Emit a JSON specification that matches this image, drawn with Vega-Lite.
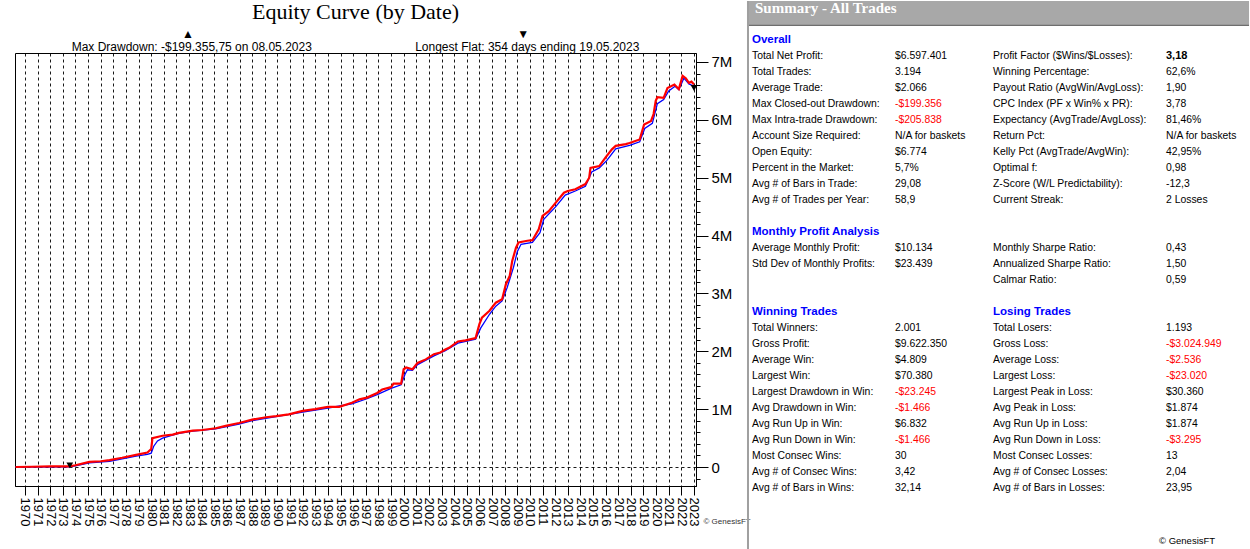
{
  "$schema": "https://vega.github.io/schema/vega-lite/v6.json",
  "padding": {"left": 10, "top": 0, "right": 0, "bottom": 0},
  "background": "white",
  "bounds": "flush",
  "spacing": 51,
  "config": {"view": {"stroke": null}, "font": "Liberation Sans"},
  "datasets": {
    "equity": [
      {"s":"open","t":1969.25,"v":0},{"s":"open","t":1970.5,"v":5000},{"s":"open","t":1972,"v":10000},{"s":"open","t":1973.5,"v":10000},
      {"s":"open","t":1974.0,"v":30000},{"s":"open","t":1975.1,"v":90000},{"s":"open","t":1976.0,"v":100000},{"s":"open","t":1976.7,"v":120000},
      {"s":"open","t":1977.7,"v":160000},{"s":"open","t":1978.8,"v":210000},{"s":"open","t":1979.7,"v":250000},{"s":"open","t":1980.0,"v":310000},
      {"s":"open","t":1980.1,"v":500000},{"s":"open","t":1980.9,"v":540000},{"s":"open","t":1981.7,"v":560000},{"s":"open","t":1982.2,"v":590000},
      {"s":"open","t":1983.3,"v":630000},{"s":"open","t":1984.05,"v":640000},{"s":"open","t":1985.1,"v":670000},{"s":"open","t":1985.9,"v":710000},
      {"s":"open","t":1986.96,"v":760000},{"s":"open","t":1988.0,"v":820000},{"s":"open","t":1989.1,"v":860000},{"s":"open","t":1989.9,"v":880000},
      {"s":"open","t":1990.9,"v":910000},{"s":"open","t":1992.0,"v":970000},{"s":"open","t":1993.0,"v":1000000},{"s":"open","t":1994.0,"v":1040000},
      {"s":"open","t":1994.9,"v":1040000},{"s":"open","t":1995.9,"v":1110000},{"s":"open","t":1996.5,"v":1170000},{"s":"open","t":1997.1,"v":1200000},
      {"s":"open","t":1997.9,"v":1280000},{"s":"open","t":1998.3,"v":1340000},{"s":"open","t":1999.0,"v":1380000},{"s":"open","t":1999.2,"v":1440000},
      {"s":"open","t":1999.8,"v":1440000},{"s":"open","t":2000.0,"v":1690000},{"s":"open","t":2000.2,"v":1720000},{"s":"open","t":2000.7,"v":1690000},
      {"s":"open","t":2001.1,"v":1800000},{"s":"open","t":2001.75,"v":1860000},{"s":"open","t":2002.4,"v":1950000},{"s":"open","t":2002.9,"v":1980000},
      {"s":"open","t":2003.3,"v":2030000},{"s":"open","t":2003.6,"v":2060000},{"s":"open","t":2004.3,"v":2170000},{"s":"open","t":2004.9,"v":2190000},
      {"s":"open","t":2005.7,"v":2230000},{"s":"open","t":2006.0,"v":2470000},{"s":"open","t":2006.2,"v":2580000},{"s":"open","t":2006.8,"v":2700000},
      {"s":"open","t":2007.3,"v":2840000},{"s":"open","t":2007.8,"v":2900000},{"s":"open","t":2008.1,"v":3160000},{"s":"open","t":2008.4,"v":3300000},
      {"s":"open","t":2008.6,"v":3560000},{"s":"open","t":2008.9,"v":3790000},{"s":"open","t":2009.1,"v":3880000},{"s":"open","t":2009.8,"v":3910000},
      {"s":"open","t":2010.2,"v":3920000},{"s":"open","t":2010.7,"v":4110000},{"s":"open","t":2011.0,"v":4340000},{"s":"open","t":2011.5,"v":4420000},
      {"s":"open","t":2012.05,"v":4570000},{"s":"open","t":2012.7,"v":4740000},{"s":"open","t":2013.0,"v":4770000},{"s":"open","t":2013.6,"v":4800000},
      {"s":"open","t":2014.4,"v":4890000},{"s":"open","t":2014.7,"v":5000000},{"s":"open","t":2014.8,"v":5170000},{"s":"open","t":2015.5,"v":5200000},
      {"s":"open","t":2016.0,"v":5350000},{"s":"open","t":2016.5,"v":5490000},{"s":"open","t":2016.8,"v":5550000},{"s":"open","t":2017.6,"v":5580000},
      {"s":"open","t":2017.9,"v":5600000},{"s":"open","t":2018.7,"v":5660000},{"s":"open","t":2018.9,"v":5810000},{"s":"open","t":2019.05,"v":5920000},
      {"s":"open","t":2019.6,"v":5980000},{"s":"open","t":2019.8,"v":6100000},{"s":"open","t":2019.97,"v":6330000},{"s":"open","t":2020.1,"v":6390000},
      {"s":"open","t":2020.6,"v":6380000},{"s":"open","t":2020.9,"v":6550000},{"s":"open","t":2021.45,"v":6610000},{"s":"open","t":2021.8,"v":6530000},
      {"s":"open","t":2022.1,"v":6760000},{"s":"open","t":2022.35,"v":6720000},{"s":"open","t":2022.6,"v":6640000},{"s":"open","t":2022.8,"v":6660000},
      {"s":"open","t":2023.0,"v":6610000},
      {"s":"closed","t":1969.25,"v":0},{"s":"closed","t":1973.5,"v":5000},{"s":"closed","t":1974.0,"v":20000},{"s":"closed","t":1975.1,"v":70000},
      {"s":"closed","t":1976.7,"v":100000},{"s":"closed","t":1977.7,"v":140000},{"s":"closed","t":1978.8,"v":190000},{"s":"closed","t":1979.7,"v":220000},
      {"s":"closed","t":1980.0,"v":240000},{"s":"closed","t":1980.2,"v":360000},{"s":"closed","t":1980.5,"v":450000},{"s":"closed","t":1980.9,"v":500000},
      {"s":"closed","t":1981.7,"v":550000},{"s":"closed","t":1982.2,"v":580000},{"s":"closed","t":1983.3,"v":620000},{"s":"closed","t":1985.1,"v":660000},
      {"s":"closed","t":1986.96,"v":740000},{"s":"closed","t":1988.0,"v":800000},{"s":"closed","t":1989.9,"v":870000},{"s":"closed","t":1992.0,"v":950000},
      {"s":"closed","t":1994.0,"v":1020000},{"s":"closed","t":1995.9,"v":1090000},{"s":"closed","t":1997.1,"v":1180000},{"s":"closed","t":1997.9,"v":1250000},
      {"s":"closed","t":1999.0,"v":1360000},{"s":"closed","t":1999.8,"v":1420000},{"s":"closed","t":2000.1,"v":1600000},{"s":"closed","t":2000.3,"v":1680000},
      {"s":"closed","t":2000.7,"v":1670000},{"s":"closed","t":2001.1,"v":1770000},{"s":"closed","t":2002.4,"v":1920000},{"s":"closed","t":2003.3,"v":2010000},
      {"s":"closed","t":2004.3,"v":2140000},{"s":"closed","t":2005.7,"v":2210000},{"s":"closed","t":2006.1,"v":2400000},{"s":"closed","t":2006.8,"v":2640000},
      {"s":"closed","t":2007.3,"v":2780000},{"s":"closed","t":2007.8,"v":2870000},{"s":"closed","t":2008.2,"v":3100000},{"s":"closed","t":2008.7,"v":3450000},
      {"s":"closed","t":2009.0,"v":3720000},{"s":"closed","t":2009.3,"v":3850000},{"s":"closed","t":2010.2,"v":3880000},{"s":"closed","t":2010.8,"v":4050000},
      {"s":"closed","t":2011.1,"v":4280000},{"s":"closed","t":2012.05,"v":4500000},{"s":"closed","t":2012.8,"v":4700000},{"s":"closed","t":2013.6,"v":4770000},
      {"s":"closed","t":2014.4,"v":4850000},{"s":"closed","t":2014.9,"v":5100000},{"s":"closed","t":2015.5,"v":5170000},{"s":"closed","t":2016.1,"v":5300000},
      {"s":"closed","t":2016.8,"v":5500000},{"s":"closed","t":2017.9,"v":5560000},{"s":"closed","t":2018.7,"v":5620000},{"s":"closed","t":2019.1,"v":5850000},
      {"s":"closed","t":2019.7,"v":5940000},{"s":"closed","t":2020.1,"v":6280000},{"s":"closed","t":2020.6,"v":6350000},{"s":"closed","t":2021.0,"v":6500000},
      {"s":"closed","t":2021.5,"v":6580000},{"s":"closed","t":2021.8,"v":6520000},{"s":"closed","t":2022.2,"v":6720000},{"s":"closed","t":2022.6,"v":6620000},
      {"s":"closed","t":2023.0,"v":6580000}
    ],
    "markers": [
      {"t": 1973.55, "v": 30000},
      {"t": 2023.0, "v": 6550000}
    ],
    "summary": [
      {"r":-2,"c":0,"t":"Summary - All Trades","k":"title"},
      {"r":0,"c":0,"t":"Overall","k":"head"},
      {"r":1,"c":0,"t":"Total Net Profit:","k":"cell"},{"r":1,"c":1,"t":"$6.597.401","k":"cell"},{"r":1,"c":2,"t":"Profit Factor ($Wins/$Losses):","k":"cell"},{"r":1,"c":3,"t":"3,18","k":"strong"},
      {"r":2,"c":0,"t":"Total Trades:","k":"cell"},{"r":2,"c":1,"t":"3.194","k":"cell"},{"r":2,"c":2,"t":"Winning Percentage:","k":"cell"},{"r":2,"c":3,"t":"62,6%","k":"cell"},
      {"r":3,"c":0,"t":"Average Trade:","k":"cell"},{"r":3,"c":1,"t":"$2.066","k":"cell"},{"r":3,"c":2,"t":"Payout Ratio (AvgWin/AvgLoss):","k":"cell"},{"r":3,"c":3,"t":"1,90","k":"cell"},
      {"r":4,"c":0,"t":"Max Closed-out Drawdown:","k":"cell"},{"r":4,"c":1,"t":"-$199.356","k":"cell"},{"r":4,"c":2,"t":"CPC Index (PF x Win% x PR):","k":"cell"},{"r":4,"c":3,"t":"3,78","k":"cell"},
      {"r":5,"c":0,"t":"Max Intra-trade Drawdown:","k":"cell"},{"r":5,"c":1,"t":"-$205.838","k":"cell"},{"r":5,"c":2,"t":"Expectancy (AvgTrade/AvgLoss):","k":"cell"},{"r":5,"c":3,"t":"81,46%","k":"cell"},
      {"r":6,"c":0,"t":"Account Size Required:","k":"cell"},{"r":6,"c":1,"t":"N/A for baskets","k":"cell"},{"r":6,"c":2,"t":"Return Pct:","k":"cell"},{"r":6,"c":3,"t":"N/A for baskets","k":"cell"},
      {"r":7,"c":0,"t":"Open Equity:","k":"cell"},{"r":7,"c":1,"t":"$6.774","k":"cell"},{"r":7,"c":2,"t":"Kelly Pct (AvgTrade/AvgWin):","k":"cell"},{"r":7,"c":3,"t":"42,95%","k":"cell"},
      {"r":8,"c":0,"t":"Percent in the Market:","k":"cell"},{"r":8,"c":1,"t":"5,7%","k":"cell"},{"r":8,"c":2,"t":"Optimal f:","k":"cell"},{"r":8,"c":3,"t":"0,98","k":"cell"},
      {"r":9,"c":0,"t":"Avg # of Bars in Trade:","k":"cell"},{"r":9,"c":1,"t":"29,08","k":"cell"},{"r":9,"c":2,"t":"Z-Score (W/L Predictability):","k":"cell"},{"r":9,"c":3,"t":"-12,3","k":"cell"},
      {"r":10,"c":0,"t":"Avg # of Trades per Year:","k":"cell"},{"r":10,"c":1,"t":"58,9","k":"cell"},{"r":10,"c":2,"t":"Current Streak:","k":"cell"},{"r":10,"c":3,"t":"2 Losses","k":"cell"},
      {"r":12,"c":0,"t":"Monthly Profit Analysis","k":"head"},
      {"r":13,"c":0,"t":"Average Monthly Profit:","k":"cell"},{"r":13,"c":1,"t":"$10.134","k":"cell"},{"r":13,"c":2,"t":"Monthly Sharpe Ratio:","k":"cell"},{"r":13,"c":3,"t":"0,43","k":"cell"},
      {"r":14,"c":0,"t":"Std Dev of Monthly Profits:","k":"cell"},{"r":14,"c":1,"t":"$23.439","k":"cell"},{"r":14,"c":2,"t":"Annualized Sharpe Ratio:","k":"cell"},{"r":14,"c":3,"t":"1,50","k":"cell"},
      {"r":15,"c":2,"t":"Calmar Ratio:","k":"cell"},{"r":15,"c":3,"t":"0,59","k":"cell"},
      {"r":17,"c":0,"t":"Winning Trades","k":"head"},{"r":17,"c":2,"t":"Losing Trades","k":"head"},
      {"r":18,"c":0,"t":"Total Winners:","k":"cell"},{"r":18,"c":1,"t":"2.001","k":"cell"},{"r":18,"c":2,"t":"Total Losers:","k":"cell"},{"r":18,"c":3,"t":"1.193","k":"cell"},
      {"r":19,"c":0,"t":"Gross Profit:","k":"cell"},{"r":19,"c":1,"t":"$9.622.350","k":"cell"},{"r":19,"c":2,"t":"Gross Loss:","k":"cell"},{"r":19,"c":3,"t":"-$3.024.949","k":"cell"},
      {"r":20,"c":0,"t":"Average Win:","k":"cell"},{"r":20,"c":1,"t":"$4.809","k":"cell"},{"r":20,"c":2,"t":"Average Loss:","k":"cell"},{"r":20,"c":3,"t":"-$2.536","k":"cell"},
      {"r":21,"c":0,"t":"Largest Win:","k":"cell"},{"r":21,"c":1,"t":"$70.380","k":"cell"},{"r":21,"c":2,"t":"Largest Loss:","k":"cell"},{"r":21,"c":3,"t":"-$23.020","k":"cell"},
      {"r":22,"c":0,"t":"Largest Drawdown in Win:","k":"cell"},{"r":22,"c":1,"t":"-$23.245","k":"cell"},{"r":22,"c":2,"t":"Largest Peak in Loss:","k":"cell"},{"r":22,"c":3,"t":"$30.360","k":"cell"},
      {"r":23,"c":0,"t":"Avg Drawdown in Win:","k":"cell"},{"r":23,"c":1,"t":"-$1.466","k":"cell"},{"r":23,"c":2,"t":"Avg Peak in Loss:","k":"cell"},{"r":23,"c":3,"t":"$1.874","k":"cell"},
      {"r":24,"c":0,"t":"Avg Run Up in Win:","k":"cell"},{"r":24,"c":1,"t":"$6.832","k":"cell"},{"r":24,"c":2,"t":"Avg Run Up in Loss:","k":"cell"},{"r":24,"c":3,"t":"$1.874","k":"cell"},
      {"r":25,"c":0,"t":"Avg Run Down in Win:","k":"cell"},{"r":25,"c":1,"t":"-$1.466","k":"cell"},{"r":25,"c":2,"t":"Avg Run Down in Loss:","k":"cell"},{"r":25,"c":3,"t":"-$3.295","k":"cell"},
      {"r":26,"c":0,"t":"Most Consec Wins:","k":"cell"},{"r":26,"c":1,"t":"30","k":"cell"},{"r":26,"c":2,"t":"Most Consec Losses:","k":"cell"},{"r":26,"c":3,"t":"13","k":"cell"},
      {"r":27,"c":0,"t":"Avg # of Consec Wins:","k":"cell"},{"r":27,"c":1,"t":"3,42","k":"cell"},{"r":27,"c":2,"t":"Avg # of Consec Losses:","k":"cell"},{"r":27,"c":3,"t":"2,04","k":"cell"},
      {"r":28,"c":0,"t":"Avg # of Bars in Wins:","k":"cell"},{"r":28,"c":1,"t":"32,14","k":"cell"},{"r":28,"c":2,"t":"Avg # of Bars in Losses:","k":"cell"},{"r":28,"c":3,"t":"23,95","k":"cell"},
      {"r":31.3,"c":3,"t":"© GenesisFT","k":"copy"}
    ]
  },
  "hconcat": [
    {
      "width": 681,
      "height": 433,
      "view": {"stroke": "#000000", "strokeWidth": 1},
      "title": {
        "text": "Equity Curve (by Date)",
        "subtitle": [
          "▲\u00a0\u00a0\u00a0\u00a0\u00a0\u00a0\u00a0\u00a0\u00a0\u00a0\u00a0\u00a0\u00a0\u00a0\u00a0\u00a0\u00a0\u00a0\u00a0\u00a0\u00a0\u00a0\u00a0\u00a0\u00a0\u00a0\u00a0\u00a0\u00a0\u00a0\u00a0\u00a0\u00a0\u00a0\u00a0\u00a0\u00a0\u00a0\u00a0\u00a0\u00a0\u00a0\u00a0\u00a0\u00a0\u00a0\u00a0\u00a0\u00a0\u00a0\u00a0\u00a0\u00a0\u00a0\u00a0\u00a0\u00a0\u00a0\u00a0\u00a0\u00a0\u00a0\u00a0\u00a0\u00a0\u00a0\u00a0\u00a0\u00a0\u00a0\u00a0\u00a0\u00a0\u00a0\u00a0\u00a0\u00a0\u00a0\u00a0\u00a0\u00a0\u00a0\u00a0\u00a0\u00a0\u00a0\u00a0\u00a0\u00a0\u00a0\u00a0\u00a0\u00a0\u00a0\u00a0\u00a0\u00a0▼",
          "Max Drawdown: -$199.355,75 on 08.05.2023\u00a0\u00a0\u00a0\u00a0\u00a0\u00a0\u00a0\u00a0\u00a0\u00a0\u00a0\u00a0\u00a0\u00a0\u00a0\u00a0\u00a0\u00a0\u00a0\u00a0\u00a0\u00a0\u00a0\u00a0\u00a0\u00a0\u00a0\u00a0\u00a0\u00a0\u00a0Longest Flat: 354 days ending 19.05.2023\u00a0\u00a0\u00a0"
        ],
        "font": "Liberation Serif",
        "fontSize": 22,
        "fontWeight": "normal",
        "color": "#000000",
        "lineHeight": 22,
        "subtitleFont": "Liberation Sans",
        "subtitleFontSize": 12,
        "subtitleColor": "#000000",
        "subtitleLineHeight": 13,
        "subtitlePadding": 5,
        "offset": -1,
        "anchor": "middle"
      },
      "layer": [
        {
          "data": {"name": "equity"},
          "transform": [{"filter": "datum.s === 'closed'"}],
          "mark": {"type": "line", "color": "#0000FF", "strokeWidth": 1.3},
          "encoding": {
            "x": {
              "field": "t", "type": "quantitative",
              "scale": {"domain": [1969.21, 2023.16], "nice": false, "zero": false},
              "axis": {
                "values": [1970,1971,1972,1973,1974,1975,1976,1977,1978,1979,1980,1981,1982,1983,1984,1985,1986,1987,1988,1989,1990,1991,1992,1993,1994,1995,1996,1997,1998,1999,2000,2001,2002,2003,2004,2005,2006,2007,2008,2009,2010,2011,2012,2013,2014,2015,2016,2017,2018,2019,2020,2021,2022,2023],
                "tickCount": 200,
                "format": "d",
                "labelAngle": 90,
                "labelFontSize": 13,
                "labelColor": "#000000",
                "labelPadding": 2,
                "labelOverlap": false,
                "labelFlush": false,
                "tickSize": 9,
                "tickColor": "#000000",
                "domainColor": "#000000",
                "grid": true,
                "gridColor": "#000000",
                "gridDash": [3, 3],
                "gridOpacity": 0.9,
                "title": "© GenesisFT",
                "titleX": 688,
                "titleY": 35,
                "titleAlign": "left",
                "titleBaseline": "middle",
                "titleFontSize": 8,
                "titleFontWeight": "normal",
                "titleColor": "#333333"
              }
            },
            "y": {
              "field": "v", "type": "quantitative",
              "scale": {"domain": [-328000, 7155000], "nice": false, "zero": false},
              "axis": {
                "orient": "right",
                "values": [-200000,0,200000,400000,600000,800000,1000000,1200000,1400000,1600000,1800000,2000000,2200000,2400000,2600000,2800000,3000000,3200000,3400000,3600000,3800000,4000000,4200000,4400000,4600000,4800000,5000000,5200000,5400000,5600000,5800000,6000000,6200000,6400000,6600000,6800000,7000000],
                "tickCount": 200,
                "labelExpr": "datum.value === 0 ? '0' : ((datum.value % 1000000 === 0 && datum.value > 0) ? (datum.value / 1000000) + 'M' : '')",
                "labelFontSize": 15,
                "labelColor": "#000000",
                "labelPadding": 3,
                "labelOverlap": false,
                "labelFlush": false,
                "tickSize": {"condition": {"test": "datum.value % 1000000 === 0", "value": 12}, "value": 4},
                "tickColor": "#000000",
                "domainColor": "#000000",
                "grid": true,
                "gridColor": "#000000",
                "gridDash": [3, 3],
                "gridOpacity": {"condition": {"test": "datum.value === 0", "value": 0.9}, "value": 0},
                "title": null
              }
            }
          }
        },
        {
          "data": {"name": "equity"},
          "transform": [{"filter": "datum.s === 'open'"}],
          "mark": {"type": "line", "color": "#FF0000", "strokeWidth": 2.2},
          "encoding": {
            "x": {"field": "t", "type": "quantitative"},
            "y": {"field": "v", "type": "quantitative"}
          }
        },
        {
          "data": {"name": "markers"},
          "mark": {"type": "point", "shape": "triangle-down", "filled": true, "color": "#000000", "opacity": 1, "size": 45},
          "encoding": {
            "x": {"field": "t", "type": "quantitative"},
            "y": {"field": "v", "type": "quantitative"}
          }
        }
      ]
    },
    {
      "width": 502,
      "height": 497,
      "view": {"stroke": null},
      "data": {"name": "summary"},
      "layer": [
        {
          "transform": [{"filter": "datum.k === 'title'"}],
          "mark": {"type": "rect", "color": "#A8A8A8", "clip": false},
          "encoding": {
            "x": {"datum": -0.035, "type": "quantitative", "scale": {"domain": [0, 1, 2, 3], "range": [5, 148, 246, 419], "nice": false, "zero": false}, "axis": null},
            "x2": {"datum": 3.48},
            "y": {"datum": -2.4375, "type": "quantitative", "scale": {"domain": [0.8125, 31.875], "reverse": true, "nice": false, "zero": false}, "axis": null},
            "y2": {"datum": -0.9375}
          }
        },
        {
          "transform": [{"filter": "datum.k === 'title'"}],
          "mark": {"type": "rule", "color": "#6E6E6E", "strokeWidth": 1.2, "clip": false},
          "encoding": {
            "x": {"datum": -0.035, "type": "quantitative"},
            "x2": {"datum": 3.48},
            "y": {"datum": -0.91, "type": "quantitative"}
          }
        },
        {
          "transform": [{"filter": "datum.k === 'title'"}],
          "mark": {"type": "rule", "color": "#A0A0A0", "strokeWidth": 2, "clip": false},
          "encoding": {
            "x": {"datum": -0.028, "type": "quantitative"},
            "y": {"datum": -2.4375, "type": "quantitative"},
            "y2": {"datum": 31.875}
          }
        },
        {
          "transform": [{"filter": "datum.k === 'title'"}],
          "mark": {"type": "text", "align": "left", "baseline": "middle", "dx": 3, "font": "Liberation Serif", "fontSize": 15, "fontWeight": "bold", "color": "#FFFFFF"},
          "encoding": {"text": {"field": "t"}, "x": {"field": "c", "type": "quantitative"}, "y": {"field": "r", "type": "quantitative"}}
        },
        {
          "transform": [{"filter": "datum.k === 'head'"}],
          "mark": {"type": "text", "align": "left", "baseline": "middle", "font": "Liberation Sans", "fontSize": 11.5, "fontWeight": "bold", "color": "#0000FF"},
          "encoding": {"text": {"field": "t"}, "x": {"field": "c", "type": "quantitative"}, "y": {"field": "r", "type": "quantitative"}}
        },
        {
          "transform": [{"filter": "datum.k === 'cell'"}],
          "mark": {"type": "text", "align": "left", "baseline": "middle", "font": "Liberation Sans", "fontSize": 10.4},
          "encoding": {
            "text": {"field": "t"},
            "x": {"field": "c", "type": "quantitative"},
            "y": {"field": "r", "type": "quantitative"},
            "color": {"condition": {"test": "indexof(datum.t, '-$') === 0", "value": "#FF0000"}, "value": "#000000"}
          }
        },
        {
          "transform": [{"filter": "datum.k === 'strong'"}],
          "mark": {"type": "text", "align": "left", "baseline": "middle", "font": "Liberation Sans", "fontSize": 11, "fontWeight": "bold", "color": "#000000"},
          "encoding": {"text": {"field": "t"}, "x": {"field": "c", "type": "quantitative"}, "y": {"field": "r", "type": "quantitative"}}
        },
        {
          "transform": [{"filter": "datum.k === 'copy'"}],
          "mark": {"type": "text", "align": "left", "baseline": "middle", "dx": -7, "font": "Liberation Sans", "fontSize": 9.5, "color": "#000000"},
          "encoding": {"text": {"field": "t"}, "x": {"field": "c", "type": "quantitative"}, "y": {"field": "r", "type": "quantitative"}}
        }
      ]
    }
  ]
}
